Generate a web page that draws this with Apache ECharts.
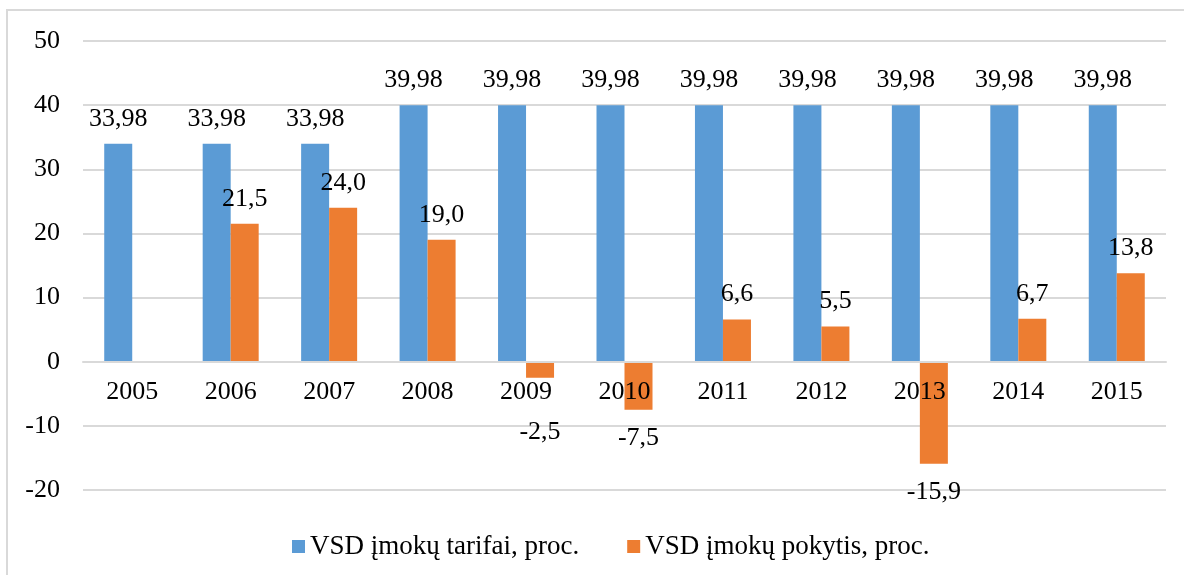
<!DOCTYPE html>
<html>
<head>
<meta charset="utf-8">
<script src="https://cdn.jsdelivr.net/npm/echarts@6/dist/echarts.min.js"></script>
<style>
  html, body { margin: 0; padding: 0; background: #ffffff; }
  #chart { width: 1184px; height: 575px; }
</style>
</head>
<body>
<div id="chart"></div>
<script>
// Years on the category axis
const years = ['2005', '2006', '2007', '2008', '2009', '2010', '2011', '2012', '2013', '2014', '2015'];
// VSD contribution rates, percent
const tariffs = [33.98, 33.98, 33.98, 39.98, 39.98, 39.98, 39.98, 39.98, 39.98, 39.98, 39.98];
// Change of VSD contributions, percent (no value for 2005)
const changes = [null, 21.5, 24.0, 19.0, -2.5, -7.5, 6.6, 5.5, -15.9, 6.7, 13.8];
// Value axis ticks
const yMin = -20, yMax = 50, yStep = 10;
const seriesNames = ['VSD įmokų tarifai, proc.', 'VSD įmokų pokytis, proc.'];

const FONT = '"Liberation Serif", "Times New Roman", serif';
const FS = 26;
const TXT = '#000000';
const comma = (v, d) => v.toFixed(d).replace('.', ',');

// Plot box
const GRID = { left: 83, right: 18, top: 41, bottom: 85 };
const plotHeight = 575 - GRID.top - GRID.bottom;
// Lift the category axis from the bottom edge up to the zero line
const zeroOffset = -plotHeight * (0 - yMin) / (yMax - yMin);

const changeData = changes.map(v => {
  if (v === null) return null;
  const item = { value: v };
  if (v < 0) {
    // small negative bars push their label below the year labels
    item.label = { position: 'bottom', distance: v > -5 ? 41 : 15 };
  }
  return item;
});

const chart = echarts.init(document.getElementById('chart'), null, { renderer: 'canvas' });
chart.setOption({
  animation: false,
  backgroundColor: '#ffffff',
  textStyle: { fontFamily: FONT },
  graphic: [{
    type: 'rect',
    shape: { x: 7, y: 10, width: 1200, height: 620 },
    style: { fill: 'none', stroke: '#d9d9d9', lineWidth: 2 },
    silent: true
  }],
  grid: Object.assign({ containLabel: false }, GRID),
  legend: {
    top: 528,
    left: 287,
    itemWidth: 13,
    itemHeight: 13,
    itemGap: 48,
    icon: 'rect',
    textStyle: { fontFamily: FONT, fontSize: 27, color: TXT },
    data: seriesNames
  },
  xAxis: {
    type: 'category',
    data: years,
    z: 5,
    offset: zeroOffset,
    axisLine: { onZero: false, lineStyle: { color: '#d9d9d9', width: 2 } },
    axisTick: { show: false },
    axisLabel: { fontFamily: FONT, fontSize: FS, color: TXT, margin: 17 }
  },
  yAxis: {
    type: 'value',
    min: yMin,
    max: yMax,
    interval: yStep,
    axisLine: { show: false },
    axisTick: { show: false },
    splitLine: { lineStyle: { color: '#d9d9d9', width: 2 } },
    axisLabel: { fontFamily: FONT, fontSize: FS, color: TXT, margin: 23 }
  },
  series: [
    {
      name: seriesNames[0],
      type: 'bar',
      data: tariffs,
      barWidth: 28,
      barGap: '0%',
      itemStyle: { color: '#5B9BD5' },
      label: {
        show: true,
        position: 'top',
        distance: 12,
        fontFamily: FONT,
        fontSize: FS,
        color: TXT,
        formatter: p => comma(p.value, 2)
      }
    },
    {
      name: seriesNames[1],
      type: 'bar',
      data: changeData,
      barWidth: 28,
      barGap: '0%',
      itemStyle: { color: '#ED7D31' },
      label: {
        show: true,
        position: 'top',
        distance: 12,
        fontFamily: FONT,
        fontSize: FS,
        color: TXT,
        formatter: p => comma(p.value, 1)
      }
    }
  ]
});
</script>
</body>
</html>
